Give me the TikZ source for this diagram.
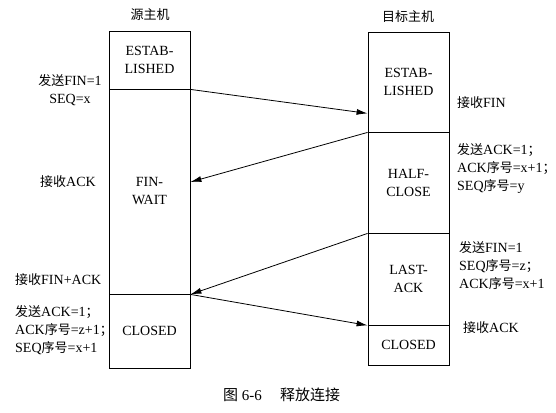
\documentclass[tikz,border=0pt]{standalone}
\usepackage{fontspec}
\setmainfont{Liberation Serif}
\newfontfamily\cjk{Noto Sans CJK SC}
\usetikzlibrary{arrows.meta}
\newcommand{\zh}[1]{{\cjk\fontsize{13}{18}\selectfont #1}}
\newcommand{\zhcap}[1]{{\cjk\fontsize{15}{18}\selectfont #1}}
\begin{document}
\begin{tikzpicture}[x=1pt,y=-1pt,
  every node/.style={font=\fontsize{14}{18}\selectfont, inner sep=0pt},
  box/.style={draw, line width=0.8pt, minimum width=81pt, align=center},
  lbl/.style={align=left, anchor=west},
  msg/.style={line width=0.8pt, -{Latex[length=11pt,width=6pt]}, shorten >=0pt}
]
\useasboundingbox (0,0) rectangle (556,412);
% titles
\node (tl) at (150,15) {\zh{源主机}};
\node (tr) at (408,17) {\zh{目标主机}};
% source host boxes
\node[box, minimum height=58pt] (lest) at (149.5,60) {ESTAB-\\LISHED};
\node[box, minimum height=205pt] (lfin) at (149.5,191.5) {FIN-\\WAIT};
\node[box, minimum height=74pt] (lclo) at (149.5,331) {CLOSED};
% destination host boxes
\node[box, minimum height=100pt] (rest) at (408.5,82) {ESTAB-\\LISHED};
\node[box, minimum height=101pt] (rhalf) at (408.5,182.5) {HALF-\\CLOSE};
\node[box, minimum height=92pt] (rlast) at (408.5,279) {LAST-\\ACK};
\node[box, minimum height=40pt] (rclo) at (408.5,345) {CLOSED};
% messages
\draw[msg] (lest.south east) -- ([yshift=19pt]rest.south west);
\draw[msg] (rest.south west) -- ([yshift=9.5pt]lfin.east);
\draw[msg] (rhalf.south west) -- (lfin.south east);
\draw[msg] (lfin.south east) -- (rlast.south west);
% left labels
\node[align=center] (l1) at (70,90.5) {\zh{发送}FIN=1\\SEQ=x};
\node (l2) at (68,182) {\zh{接收}ACK};
\node[lbl] (l3) at (15,280) {\zh{接收}FIN+ACK};
\node[lbl] (l4) at (15,330.5) {\zh{发送}ACK=1\zh{；}\\ACK\zh{序号}=z+1\zh{；}\\SEQ\zh{序号}=x+1};
% right labels
\node[lbl] (r1) at (457,103) {\zh{接收}FIN};
\node[lbl] (r2) at (457,169) {\zh{发送}ACK=1\zh{；}\\ACK\zh{序号}=x+1\zh{；}\\SEQ\zh{序号}=y};
\node[lbl] (r3) at (459,266) {\zh{发送}FIN=1\\SEQ\zh{序号}=z\zh{；}\\ACK\zh{序号}=x+1};
\node[lbl] (r4) at (463,328) {\zh{接收}ACK};
% caption
\node[lbl, font=\fontsize{15}{18}\selectfont] (c1) at (223,395) {\zhcap{图} 6-6};
\node[lbl] (c2) at (280,395) {\zhcap{释放连接}};
\end{tikzpicture}
\end{document}
